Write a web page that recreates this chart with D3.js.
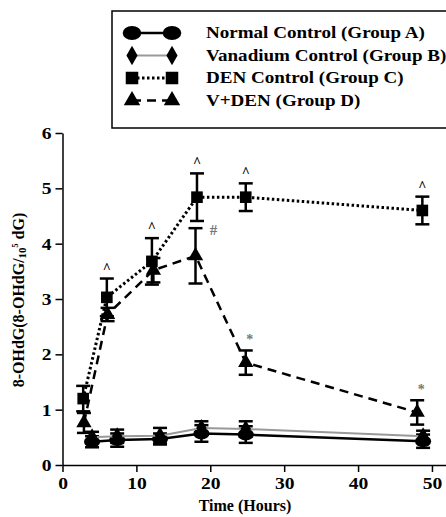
<!DOCTYPE html>
<html lang="en">
<head>
    <meta charset="UTF-8">
    <title>8-OHdG over time</title>
    <script src="https://d3js.org/d3.v7.min.js"></script>
    <style>
        body { margin: 0; background: #fff; }
        svg { display: block; }
        svg text { font-family: "Liberation Serif", "Times New Roman", Times, "DejaVu Serif", serif; font-weight: bold; }
    </style>
</head>
<body>
    <svg width="446" height="517"></svg>

    <script>
        // values
        const timesC = [2.8, 6.0, 12.1, 18.2, 24.8, 48.7];
        const meanC = [1.2, 3.03, 3.68, 4.84, 4.84, 4.6];
        const errC = [0.23, 0.34, 0.42, 0.43, 0.25, 0.25];

        const timesD = [2.9, 6.1, 12.3, 18.0, 24.8, 48.0];
        const meanD = [0.76, 2.72, 3.52, 3.78, 1.85, 0.95];
        const errD = [0.18, 0.12, 0.22, 0.5, 0.22, 0.22];

        const timesA = [4.0, 7.4, 13.2, 18.8, 24.8, 48.8];
        const meanA = [0.42, 0.45, 0.47, 0.57, 0.55, 0.43];
        const errA = [0.1, 0.12, 0.1, 0.15, 0.15, 0.12];

        const timesB = [4.0, 7.4, 13.2, 18.8, 24.8, 48.8];
        const meanB = [0.5, 0.52, 0.53, 0.67, 0.65, 0.52];
        const errB = [0.1, 0.12, 0.14, 0.12, 0.14, 0.1];

        const marksC = ["", "^", "^", "^", "^", "^"];
        const marksD = ["", "", "", "#", "*", "*"];

        const legendLabels = ["Normal Control (Group A)", "Vanadium Control (Group B)", "DEN Control (Group C)", "V+DEN (Group D)"];
        const xTicks = [0, 10, 20, 30, 40, 50];
        const yTicks = [0, 1, 2, 3, 4, 5, 6];

        const svg = d3.select("svg");

        const x = d3.scaleLinear().domain([0, 51.9]).range([62.5, 446]);
        const y = d3.scaleLinear().domain([0, 6]).range([465, 133]);

        const series = [
            { t: timesA, m: meanA, e: errA, color: "#000", lw: 2.5, dash: null, shape: "ellipse" },
            { t: timesB, m: meanB, e: errB, color: "#999", lw: 2, dash: null, shape: "diamond" },
            { t: timesC, m: meanC, e: errC, color: "#000", lw: 3, dash: "2.5,2.5", shape: "square" },
            { t: timesD, m: meanD, e: errD, color: "#000", lw: 2.5, dash: "9,6", shape: "triangle" }
        ];

        // stretch text horizontally, like the scanned figure
        function stretch(sel, k) {
            sel.each(function() {
                const w = this.getComputedTextLength();
                d3.select(this).attr("textLength", w * k).attr("lengthAdjust", "spacingAndGlyphs");
            });
        }

        // axes
        const xAxis = svg.append("g")
            .attr("transform", `translate(0,${y(0)})`)
            .call(d3.axisBottom(x).tickValues(xTicks).tickFormat(d3.format("d")).tickSize(7).tickSizeOuter(0).tickPadding(5));
        const yAxis = svg.append("g")
            .attr("transform", `translate(${x(0)},0)`)
            .call(d3.axisLeft(y).tickValues(yTicks).tickFormat(d3.format("d")).tickSize(7).tickSizeOuter(0).tickPadding(4));

        [xAxis, yAxis].forEach(a => {
            a.attr("font-family", null);
            a.selectAll("path, line").attr("stroke", "#000").attr("stroke-width", 1.5);
            a.selectAll("text").attr("font-size", 17).attr("fill", "#000");
            stretch(a.selectAll("text"), 1.15);
        });

        svg.append("text")
            .attr("x", 245).attr("y", 511)
            .attr("text-anchor", "middle")
            .attr("font-size", 16)
            .text("Time (Hours)");

        const yl = svg.append("text")
            .attr("transform", "translate(24,300) rotate(-90)")
            .attr("text-anchor", "middle")
            .attr("font-size", 16);
        yl.append("tspan").text("8-OHdG(8-OHdG/");
        yl.append("tspan").attr("font-size", 11).attr("dy", 2).text("10");
        yl.append("tspan").attr("font-size", 8).attr("dy", -8).text("5");
        yl.append("tspan").attr("dy", 6).text(" dG)");

        function drawShape(g, shape, cx, cy, s) {
            if (shape === "ellipse") {
                g.append("ellipse").attr("cx", cx).attr("cy", cy).attr("rx", s * 0.62).attr("ry", s * 0.46).attr("fill", "#000");
            } else {
                const sym = { diamond: d3.symbolDiamond, square: d3.symbolSquare, triangle: d3.symbolTriangle }[shape];
                const area = shape === "square" ? s * s * 0.8 : shape === "diamond" ? s * s * 0.55 : s * s * 0.6;
                g.append("path")
                    .attr("transform", `translate(${cx},${cy})`)
                    .attr("d", d3.symbol().type(sym).size(area))
                    .attr("fill", "#000");
            }
        }

        const line = d3.line().x(d => x(d[0])).y(d => y(d[1]));

        series.forEach(s => {
            const g = svg.append("g");
            const pts = s.t.map((t, i) => [t, s.m[i], s.e[i]]);
            g.append("path")
                .attr("d", line(pts))
                .attr("fill", "none")
                .attr("stroke", s.color)
                .attr("stroke-width", s.lw)
                .attr("stroke-dasharray", s.dash);
            // error bars
            pts.forEach(p => {
                const cx = x(p[0]);
                g.append("line").attr("x1", cx).attr("x2", cx).attr("y1", y(p[1] - p[2])).attr("y2", y(p[1] + p[2]))
                    .attr("stroke", "#000").attr("stroke-width", 2.5);
                [p[1] - p[2], p[1] + p[2]].forEach(v => {
                    g.append("line").attr("x1", cx - 7).attr("x2", cx + 7).attr("y1", y(v)).attr("y2", y(v))
                        .attr("stroke", "#000").attr("stroke-width", 2.5);
                });
                drawShape(g, s.shape, cx, y(p[1]), 13);
            });
        });

        // significance marks
        timesC.forEach((t, i) => {
            if (!marksC[i]) return;
            svg.append("text").attr("x", x(t)).attr("y", y(meanC[i] + errC[i]) - 6)
                .attr("text-anchor", "middle").attr("font-size", 14).attr("font-weight", "normal")
                .text(marksC[i]);
        });
        timesD.forEach((t, i) => {
            if (!marksD[i]) return;
            const isHash = marksD[i] === "#";
            svg.append("text")
                .attr("x", isHash ? x(t) + 18 : x(t) + 4)
                .attr("y", isHash ? y(meanD[i] + 0.38) : y(meanD[i] + errD[i]) - 6)
                .attr("text-anchor", "middle").attr("font-size", isHash ? 15 : 14).attr("font-weight", "normal")
                .attr("fill", "#777").text(marksD[i]);
        });

        // legend
        const leg = svg.append("g");
        leg.append("rect").attr("x", 112).attr("y", 11).attr("width", 345).attr("height", 117)
            .attr("fill", "#fff").attr("stroke", "#000").attr("stroke-width", 1.5);
        legendLabels.forEach((lab, i) => {
            const s = series[i];
            const ly = 33 + i * 22.5;
            leg.append("line").attr("x1", 132).attr("x2", 172).attr("y1", ly).attr("y2", ly)
                .attr("stroke", s.color).attr("stroke-width", s.lw).attr("stroke-dasharray", s.dash);
            const size = s.shape === "ellipse" ? 15 : 14;
            drawShape(leg, s.shape, 132, ly, size);
            drawShape(leg, s.shape, 172, ly, size);
            const t = leg.append("text").attr("x", 206).attr("y", ly + 5).attr("font-size", 16).text(lab);
            stretch(t, 1.19);
        });
    </script>
</body>
</html>
